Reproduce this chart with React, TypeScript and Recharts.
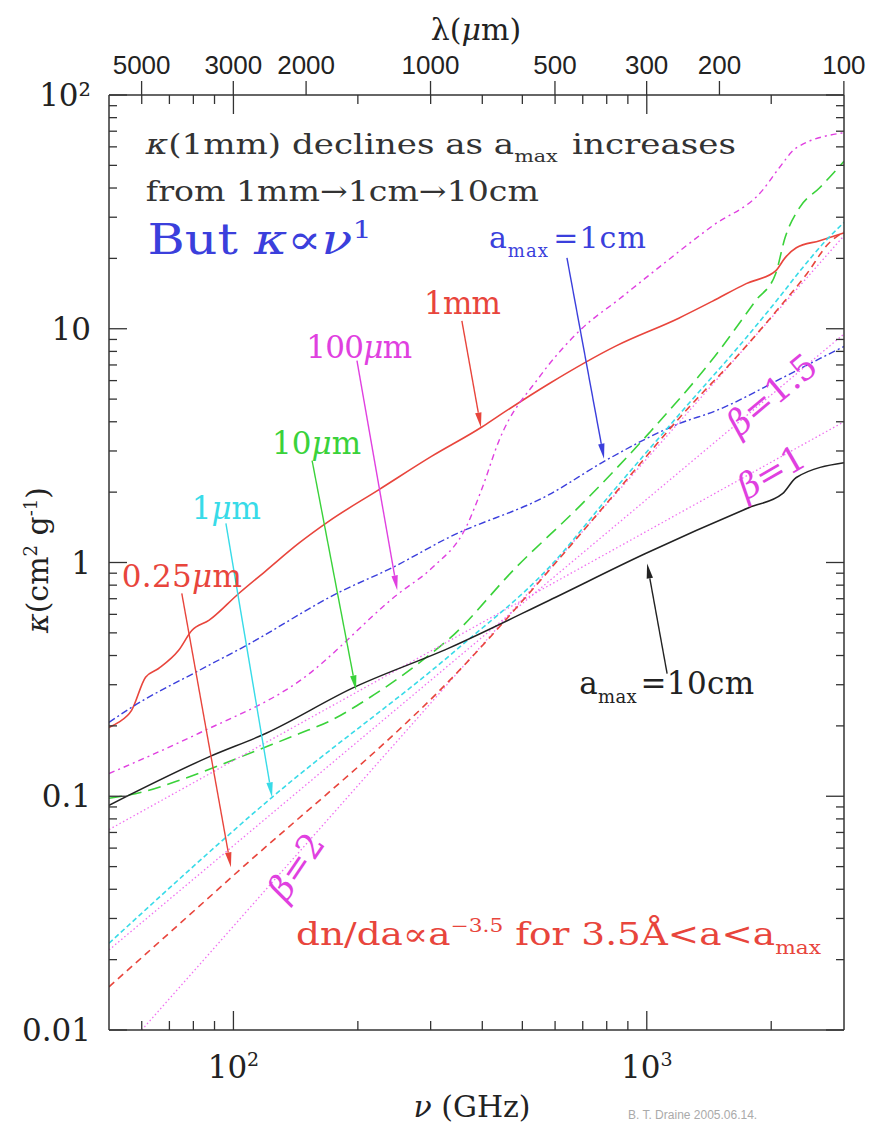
import React from "react";
import { LineChart, Line, XAxis, YAxis, ReferenceLine, ReferenceDot } from "recharts";

const WIDTH = 880;
const HEIGHT = 1129;
const LEFT = 109;
const RIGHT = 36;
const TOP = 95;
const BOTTOM = 99;
const SERIF = "'DejaVu Serif', serif";
const SANS = "'Liberation Sans', Arial, sans-serif";
const FRAME = "#333";

const RED = "#e8453c";
const BLUE = "#3b3fdc";
const MAGENTA = "#e040e0";
const GREEN = "#3ad23a";
const CYAN = "#38dbe8";
const PINK = "#f070f0";
const BLACK = "#222";

// nu in GHz, kappa in cm^2/g, one pair of arrays per a_max
const nu1mm = [50, 52.7, 56.7, 61.3, 65.9, 73.7, 79.3, 87.2, 103, 120, 144, 170, 225, 302, 399, 439, 580, 843, 1195, 1440, 1740, 2050, 2160, 2300, 2620, 3000];
const k1mm = [0.197, 0.207, 0.233, 0.323, 0.352, 0.421, 0.512, 0.565, 0.737, 0.924, 1.21, 1.5, 2.05, 2.85, 3.8, 4.25, 5.82, 8.45, 11.1, 13.1, 15.6, 17.7, 20.1, 22.2, 23.8, 25.7];

const nu1cm = [50, 56.7, 82.5, 107, 180, 242, 332, 580, 795, 1194, 1470, 2130, 2640, 3000];
const k1cm = [0.207, 0.24, 0.345, 0.44, 0.745, 0.95, 1.28, 1.95, 2.73, 3.92, 4.46, 6.17, 7.5, 8.4];

const nu100um = [50, 82.5, 144, 251, 303, 365, 400, 439, 548, 700, 858, 994, 1440, 1900, 2090, 2300, 3000];
const k100um = [0.125, 0.186, 0.31, 0.737, 0.952, 1.41, 2.09, 3.32, 6.17, 10.1, 13.4, 16.5, 27.5, 38.9, 48.7, 59.4, 69];

const nu10um = [50, 60, 75, 90, 115, 144, 173, 209, 251, 302, 332, 482, 699, 1010, 1496, 1835, 2050, 2160, 2340, 2620, 3000];
const k10um = [0.098, 0.104, 0.118, 0.133, 0.158, 0.185, 0.212, 0.258, 0.32, 0.41, 0.47, 0.95, 1.79, 3.56, 8.05, 13.2, 17.2, 24.5, 32.9, 40.1, 52];

const nu1um = [50, 124, 350, 580, 843, 1220, 1740, 2090, 2380, 2710, 3000];
const k1um = [0.0235, 0.099, 0.43, 0.952, 2.09, 4.46, 9.16, 13.6, 18.2, 23.8, 28.5];

const nu025um = [50, 99, 365, 580, 843, 1220, 1700, 2090, 2440, 2750, 3000];
const k025um = [0.0153, 0.0451, 0.37, 0.924, 2.0, 4.3, 8.05, 12.3, 17.2, 23.1, 26];

const nu10cm = [50, 87, 120, 194, 332, 580, 990, 1770, 2130, 2300, 3000];
const k10cm = [0.0915, 0.147, 0.186, 0.29, 0.43, 0.688, 1.09, 1.72, 1.97, 2.31, 2.67];

// power laws kappa ~ nu^beta, end points
const nuBeta1 = [50, 3000];
const kBeta1 = [0.072, 4.0];
const nuBeta15 = [50, 3000];
const kBeta15 = [0.022, 9.5];
const nuBeta2 = [60, 3000];
const kBeta2 = [0.01, 25];

const nuTicks = [60, 70, 80, 90, 100, 200, 300, 400, 500, 600, 700, 800, 900, 1000, 2000];
const lambdaTicks = [5000, 3000, 2000, 1000, 500, 300, 200, 100];
const kMajor = [0.01, 0.1, 1, 10, 100];
const kLabels = ["0.01", "0.1", "1", "10", "10²"];

const C_UM_GHZ = 299792.458;
const lambdaNu = lambdaTicks.map((l) => C_UM_GHZ / l);
const kTicks = kMajor.slice(0, 4).flatMap((d) => [1, 2, 3, 4, 5, 6, 7, 8, 9].map((m) => +(d * m).toPrecision(3))).concat([100]);

const zip = (xs: number[], ys: number[]) => xs.map((nu, i) => ({ nu, k: ys[i] }));

const series = [
  { name: "1mm", data: zip(nu1mm, k1mm), color: RED, dash: undefined, w: 1.6 },
  { name: "1cm", data: zip(nu1cm, k1cm), color: BLUE, dash: "7 3 2 3", w: 1.4 },
  { name: "100um", data: zip(nu100um, k100um), color: MAGENTA, dash: "6 4 2 4", w: 1.4 },
  { name: "10um", data: zip(nu10um, k10um), color: GREEN, dash: "13 7", w: 1.6 },
  { name: "b15", data: zip(nuBeta15, kBeta15), color: PINK, dash: "1.5 2.5", w: 1.3 },
  { name: "b1", data: zip(nuBeta1, kBeta1), color: PINK, dash: "1.5 2.5", w: 1.3 },
  { name: "b2", data: zip(nuBeta2, kBeta2), color: PINK, dash: "1.5 2.5", w: 1.3 },
  { name: "1um", data: zip(nu1um, k1um), color: CYAN, dash: "5 3", w: 1.6 },
  { name: "0.25um", data: zip(nu025um, k025um), color: RED, dash: "7 5", w: 1.6 },
  { name: "10cm", data: zip(nu10cm, k10cm), color: BLACK, dash: undefined, w: 1.5 },
];

// label arrows: tail -> head, in (nu, kappa)
const arrows = [
  { from: [357, 10.8], to: [397, 3.78], color: RED },
  { from: [641, 20.1], to: [788, 2.78], color: BLUE },
  { from: [199, 7.3], to: [249, 0.76], color: MAGENTA },
  { from: [155, 2.73], to: [198, 0.284], color: GREEN },
  { from: [95.9, 1.47], to: [124, 0.099], color: CYAN },
  { from: [75, 0.737], to: [98.6, 0.0497], color: RED },
  { from: [1120, 0.335], to: [1002, 0.99], color: BLACK },
];

const BottomTick = (p: any) => {
  const v = p.payload.value;
  const yb = HEIGHT - BOTTOM;
  const major = v === 100 || v === 1000;
  return (
    <g>
      <line x1={p.x} x2={p.x} y1={yb} y2={yb - (major ? 19 : 9)} stroke={FRAME} strokeWidth={1.3} />
      {major && (
        <text x={p.x} y={yb + 48} textAnchor="middle" fontSize={31} fontFamily={SERIF} fill={BLACK}>
          10<tspan dy={-12} fontSize={19}>{v === 100 ? "2" : "3"}</tspan>
        </text>
      )}
    </g>
  );
};

const TopTick = (p: any) => {
  const v = p.payload.value;
  const yt = TOP;
  const li = lambdaNu.findIndex((n) => Math.abs(n - v) < 1e-6);
  if (li >= 0) {
    return (
      <g>
        <line x1={p.x} x2={p.x} y1={yt} y2={yt - 14} stroke={FRAME} strokeWidth={1.3} />
        <text x={p.x} y={yt - 21} textAnchor="middle" fontSize={26} fontFamily={SANS} fill={BLACK}>
          {lambdaTicks[li]}
        </text>
      </g>
    );
  }
  const major = v === 100 || v === 1000;
  return <line x1={p.x} x2={p.x} y1={yt} y2={yt + (major ? 19 : 9)} stroke={FRAME} strokeWidth={1.3} />;
};

const LeftTick = (p: any) => {
  const v = p.payload.value;
  const mi = kMajor.indexOf(v);
  return (
    <g>
      <line x1={LEFT} x2={LEFT + (mi >= 0 ? 18 : 8)} y1={p.y} y2={p.y} stroke={FRAME} strokeWidth={1.3} />
      {mi >= 0 && (
        <text x={LEFT - 18} y={p.y + 11} textAnchor="end" fontSize={31} fontFamily={SERIF} fill={BLACK}>
          {kLabels[mi]}
        </text>
      )}
    </g>
  );
};

const RightTick = (p: any) => {
  const v = p.payload.value;
  const xr = WIDTH - RIGHT;
  const major = kMajor.includes(v);
  return <line x1={xr} x2={xr - (major ? 18 : 8)} y1={p.y} y2={p.y} stroke={FRAME} strokeWidth={1.3} />;
};

const arrowShape = (color: string) => (p: any) => {
  const { x1, y1, x2, y2 } = p;
  const a = Math.atan2(y2 - y1, x2 - x1);
  const L = 15;
  const h = 3.2;
  const bx = x2 - L * Math.cos(a);
  const by = y2 - L * Math.sin(a);
  const nx = -Math.sin(a) * h;
  const ny = Math.cos(a) * h;
  return (
    <g>
      <line x1={x1} y1={y1} x2={bx} y2={by} stroke={color} strokeWidth={1.4} />
      <polygon points={`${x2},${y2} ${bx + nx},${by + ny} ${bx - nx},${by - ny}`} fill={color} />
    </g>
  );
};

const textShape = (content: React.ReactNode, opts: any) => (p: any) => (
  <text
    x={p.cx}
    y={p.cy}
    fontFamily={SERIF}
    fontSize={opts.size ?? 30}
    fill={opts.color}
    textAnchor={opts.anchor ?? "start"}
    textLength={opts.len}
    lengthAdjust={opts.stretch ? "spacingAndGlyphs" : "spacing"}
    transform={opts.rot ? `rotate(${opts.rot} ${p.cx} ${p.cy})` : undefined}
  >
    {content}
  </text>
);

const it = (s: string) => <tspan fontStyle="italic">{s}</tspan>;

const sub = (s: string, dy = 8, size = 16) => (
  <>
    <tspan dy={dy} fontSize={size}>{s}</tspan>
    <tspan dy={-dy}>{"\u200a"}</tspan>
  </>
);

const labels = [
  { at: [61.4, 56], opts: { color: "#333", size: 28, len: 590, stretch: true }, content: <>{it("κ")}(1mm) declines as a{sub("max", 8, 17)} increases</> },
  { at: [61.4, 35.2], opts: { color: "#333", size: 28, len: 393, stretch: true }, content: <>from 1mm→1cm→10cm</> },
  { at: [62, 20.9], opts: { color: BLUE, size: 42, len: 224, stretch: true }, content: <>But {it("κ∝ν")}<tspan dy={-16} fontSize={25}>1</tspan></> },
  { at: [415, 22.2], opts: { color: BLUE, size: 30, len: 157 }, content: <>a{sub("max", 9, 18)}=1cm</> },
  { at: [289, 11.6], opts: { color: RED, size: 31, len: 77 }, content: <>1mm</> },
  { at: [150, 7.5], opts: { color: MAGENTA, size: 31, len: 106 }, content: <>100{it("μ")}m</> },
  { at: [124, 2.92], opts: { color: GREEN, size: 31, len: 89 }, content: <>10{it("μ")}m</> },
  { at: [79.3, 1.54], opts: { color: CYAN, size: 31, len: 69 }, content: <>1{it("μ")}m</> },
  { at: [53.7, 0.782], opts: { color: RED, size: 31, len: 120 }, content: <>0.25{it("μ")}m</> },
  { at: [686, 0.275], opts: { color: BLACK, size: 31, len: 175 }, content: <>a{sub("max", 9, 18)}=10cm</> },
  {
    at: [141.7, 0.0231],
    opts: { color: RED, size: 31, len: 525, stretch: true },
    content: (
      <>
        dn/da∝a<tspan dy={-13} fontSize={18}>−3.5</tspan>
        <tspan dy={13}> for 3.5Å&lt;a&lt;a</tspan>
        <tspan dy={9} fontSize={18}>max</tspan>
      </>
    ),
  },
  { at: [2094, 4.78], opts: { color: MAGENTA, size: 35, anchor: "middle", rot: -40 }, content: <>{it("β")}=1.5</> },
  { at: [2070, 2.2], opts: { color: MAGENTA, size: 35, anchor: "middle", rot: -30 }, content: <>{it("β")}=1</> },
  { at: [150, 0.0469], opts: { color: MAGENTA, size: 35, anchor: "middle", rot: -56 }, content: <>{it("β")}=2</> },
];

export default function App() {
  return (
    <div style={{ position: "absolute", left: 0, top: 0, width: WIDTH, height: HEIGHT, background: "#fff" }}>
      <LineChart width={WIDTH} height={HEIGHT} margin={{ top: 0, right: 0, bottom: 0, left: 0 }}>
        <XAxis
          xAxisId={0}
          dataKey="nu"
          type="number"
          scale="log"
          domain={[50, 3000]}
          allowDataOverflow
          ticks={nuTicks}
          interval={0}
          height={BOTTOM}
          tickLine={false}
          tick={<BottomTick />}
          axisLine={{ stroke: FRAME, strokeWidth: 1.5 }}
        />
        <XAxis
          xAxisId="top"
          orientation="top"
          dataKey="nu"
          type="number"
          scale="log"
          domain={[50, 3000]}
          allowDataOverflow
          ticks={[...nuTicks, ...lambdaNu]}
          interval={0}
          height={TOP}
          tickLine={false}
          tick={<TopTick />}
          axisLine={{ stroke: FRAME, strokeWidth: 1.5 }}
        />
        <YAxis
          yAxisId={0}
          type="number"
          scale="log"
          domain={[0.01, 100]}
          allowDataOverflow
          ticks={kTicks}
          interval={0}
          width={LEFT}
          tickLine={false}
          tick={<LeftTick />}
          axisLine={{ stroke: FRAME, strokeWidth: 1.5 }}
        />
        <YAxis
          yAxisId="right"
          orientation="right"
          type="number"
          scale="log"
          domain={[0.01, 100]}
          allowDataOverflow
          ticks={kTicks}
          interval={0}
          width={RIGHT}
          tickLine={false}
          tick={<RightTick />}
          axisLine={{ stroke: FRAME, strokeWidth: 1.5 }}
        />
        {series.map((s) => (
          <Line
            key={s.name}
            data={s.data}
            dataKey="k"
            type="monotone"
            stroke={s.color}
            strokeWidth={s.w}
            strokeDasharray={s.dash}
            dot={false}
            activeDot={false}
            isAnimationActive={false}
          />
        ))}
        {arrows.map((a, i) => (
          <ReferenceLine
            key={"ar" + i}
            segment={[
              { x: a.from[0], y: a.from[1] },
              { x: a.to[0], y: a.to[1] },
            ]}
            shape={arrowShape(a.color)}
          />
        ))}
        {labels.map((l, i) => (
          <ReferenceDot key={"lb" + i} x={l.at[0]} y={l.at[1]} r={1} shape={textShape(l.content, l.opts)} />
        ))}
      </LineChart>
      <svg width={WIDTH} height={HEIGHT} style={{ position: "absolute", left: 0, top: 0, pointerEvents: "none" }}>
        <text x={476} y={40} textAnchor="middle" fontSize={30} fontFamily={SERIF} fill={BLACK}>
          λ(<tspan fontStyle="italic">μ</tspan>m)
        </text>
        <text x={472} y={1117} textAnchor="middle" fontSize={30} fontFamily={SERIF} fill={BLACK}>
          <tspan fontStyle="italic">ν</tspan> (GHz)
        </text>
        <text x={628} y={1119} fontSize={12} fontFamily={SANS} fill="#aaa">
          B. T. Draine 2005.06.14.
        </text>
        <text transform="translate(48,560) rotate(-90)" textAnchor="middle" fontSize={30} fontFamily={SERIF} fill={BLACK}>
          <tspan fontStyle="italic">κ</tspan>(cm<tspan dy={-11} fontSize={18}>2</tspan>
          <tspan dy={11}> g</tspan>
          <tspan dy={-11} fontSize={18}>-1</tspan>
          <tspan dy={11}>)</tspan>
        </text>
      </svg>
    </div>
  );
}
